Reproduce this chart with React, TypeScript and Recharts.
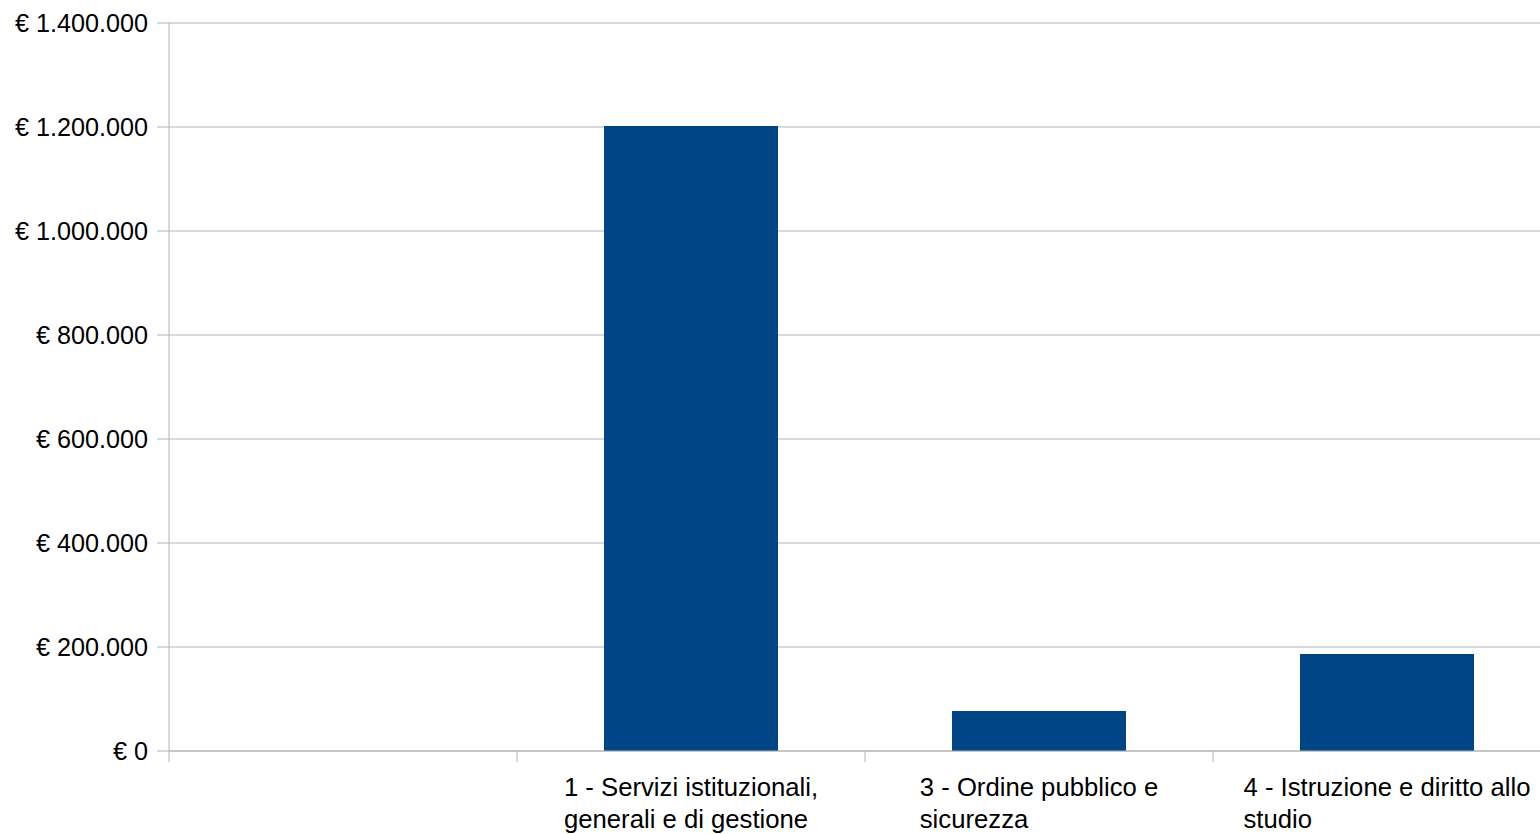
import { BarChart, Bar, XAxis, YAxis, CartesianGrid } from 'recharts'

// Spending by mission (euro). First category is an empty placeholder slot.
const categories = [
  '',
  '1 - Servizi istituzionali, generali e di gestione',
  '3 - Ordine pubblico e sicurezza',
  '4 - Istruzione e diritto allo studio',
]
const amounts: (number | null)[] = [null, 1202000, 77000, 186500]
const yTicks = [0, 200000, 400000, 600000, 800000, 1000000, 1200000, 1400000]

const data = categories.map((name, i) => ({ name, amount: amounts[i] }))

const W = 1570
const H = 834
const MARGIN = { top: 23, right: 9, bottom: 0, left: 0 }
const Y_W = 169
const X_H = 83
const band = (W - MARGIN.left - MARGIN.right - Y_W) / categories.length
const FONT = "'Liberation Sans', Arial, sans-serif"
const FS = 25.7
const AXIS = '#b3b3b3'

function euro(v: number) {
  return '€ ' + v.toString().replace(/\B(?=(\d{3})+(?!\d))/g, '.')
}

let ctx: CanvasRenderingContext2D | null = null
function textWidth(s: string) {
  if (!ctx) {
    ctx = document.createElement('canvas').getContext('2d')
    if (ctx) ctx.font = `${FS}px ${FONT}`
  }
  return ctx ? ctx.measureText(s).width : s.length * FS * 0.5
}

function wrap(label: string, max: number): string[] {
  const lines: string[] = []
  let cur = ''
  for (const word of label.split(' ')) {
    const next = cur ? cur + ' ' + word : word
    if (cur && textWidth(next) > max) {
      lines.push(cur)
      cur = word
    } else cur = next
  }
  if (cur) lines.push(cur)
  return lines
}

function CategoryTick({ x, y, payload }: any) {
  const lines = wrap(String(payload.value ?? ''), band * 0.9)
  const w = Math.max(0, ...lines.map(textWidth))
  const left = x - w / 2
  const bx = x - band / 2
  return (
    <g>
      <line x1={bx} x2={bx} y1={y} y2={y + 11} stroke={AXIS} strokeWidth={1} />
      <text x={left} y={y + 45} fill="#000" fontSize={FS} fontFamily={FONT} textAnchor="start">
        {lines.map((l, i) => (
          <tspan key={i} x={left} y={y + 45 + i * 32}>{l}</tspan>
        ))}
      </text>
    </g>
  )
}

export default function App() {
  return (
    <div style={{ position: 'absolute', left: 0, top: 0, width: 1540, height: 834, overflow: 'hidden', background: '#fff' }}>
      <BarChart width={W} height={H} data={data} margin={MARGIN} barCategoryGap="25%">
        <CartesianGrid vertical={false} stroke={AXIS} />
        <XAxis
          dataKey="name"
          height={X_H}
          interval={0}
          axisLine={{ stroke: AXIS }}
          tickLine={false}
          tickSize={0}
          tickMargin={0}
          tick={<CategoryTick />}
        />
        <YAxis
          width={Y_W}
          domain={[0, 1400000]}
          ticks={yTicks}
          tickFormatter={euro}
          axisLine={{ stroke: AXIS }}
          tickLine={{ stroke: AXIS }}
          tickSize={12}
          tickMargin={9}
          tick={{ fill: '#000', fontSize: 25.2, fontFamily: FONT }}
        />
        <Bar dataKey="amount" fill="#004586" isAnimationActive={false} />
      </BarChart>
    </div>
  )
}
